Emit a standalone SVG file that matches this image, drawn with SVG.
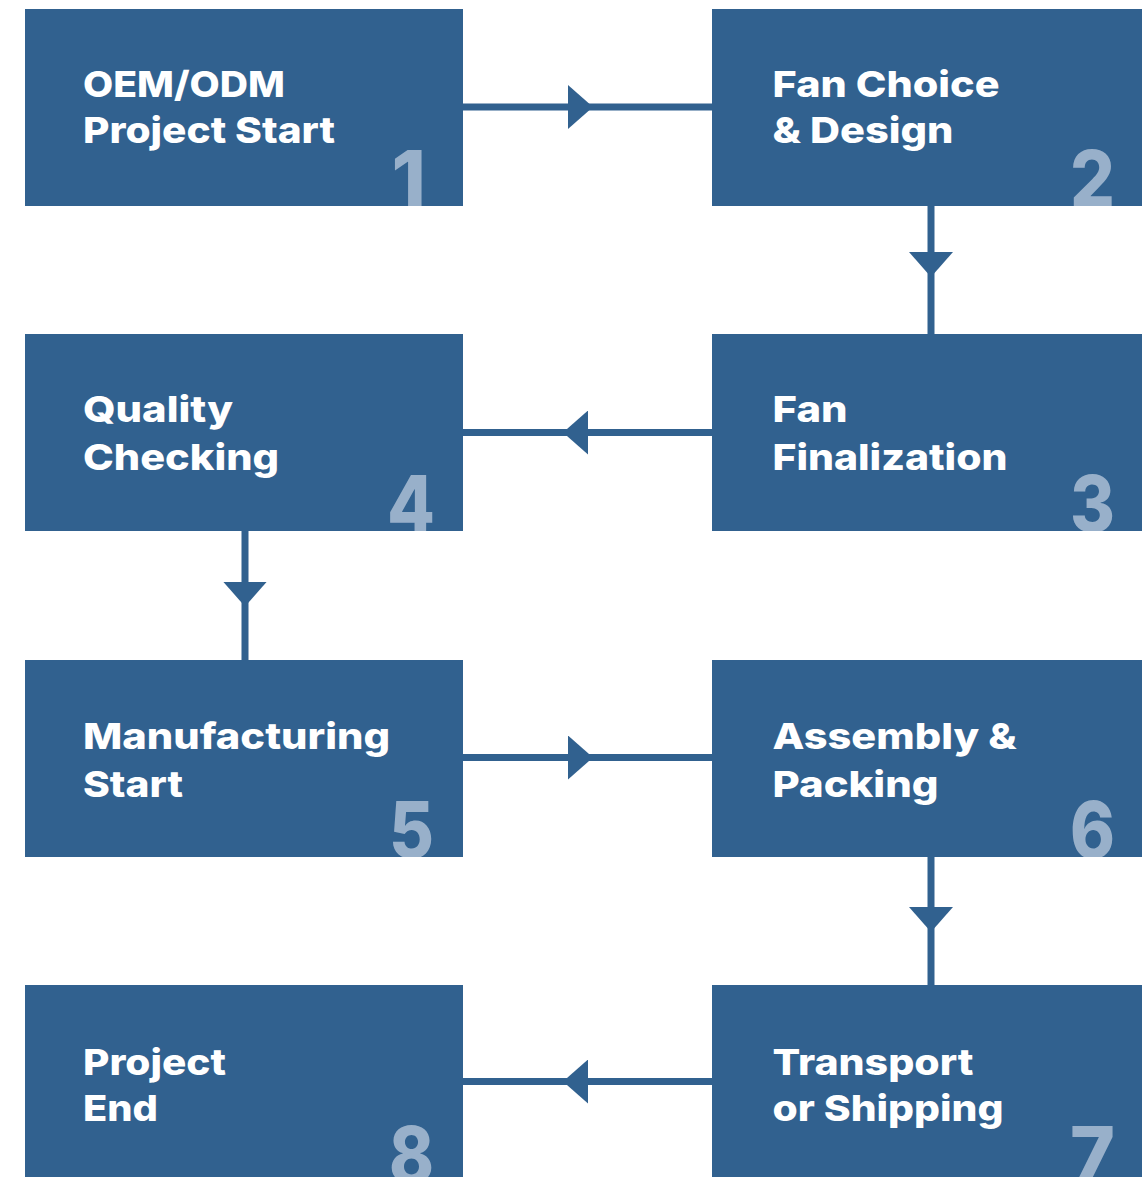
<svg xmlns="http://www.w3.org/2000/svg" width="1142" height="1177" viewBox="0 0 1142 1177">
  <style>
    .box { fill: #31618F; }
    .lbl { font-family: Inter, "Open Sans", "Liberation Sans", sans-serif; font-weight: 800; font-size: 36px; fill: #FFFFFF; }
    .num { font-family: Inter, "Open Sans", "Liberation Sans", sans-serif; font-weight: 800; font-size: 78px; fill: #98B0CA; text-anchor: end; }
    .conn { fill: none; stroke: #31618F; stroke-width: 7; marker-mid: url(#arrow); }
  </style>
  <defs>
    <marker id="arrow" markerUnits="userSpaceOnUse" markerWidth="26" markerHeight="44" viewBox="0 0 26 44" refX="25" refY="22" orient="auto">
      <path d="M0,0 L25,22 L0,44 Z" fill="#31618F"/>
    </marker>
    <clipPath id="c1"><rect x="25" y="9" width="438" height="197"/></clipPath>
    <clipPath id="c2"><rect x="712" y="9" width="438" height="197"/></clipPath>
    <clipPath id="c3"><rect x="712" y="334" width="438" height="197"/></clipPath>
    <clipPath id="c4"><rect x="25" y="334" width="438" height="197"/></clipPath>
    <clipPath id="c5"><rect x="25" y="660" width="438" height="197"/></clipPath>
    <clipPath id="c6"><rect x="712" y="660" width="438" height="197"/></clipPath>
    <clipPath id="c7"><rect x="712" y="985" width="438" height="197"/></clipPath>
    <clipPath id="c8"><rect x="25" y="985" width="438" height="197"/></clipPath>
  </defs>
  <rect width="1142" height="1177" fill="#FFFFFF"/>

  <g id="connectors">
    <path class="conn" d="M463,107 H593 H712"/>
    <path class="conn" d="M931,206 V277 V334"/>
    <path class="conn" d="M712,432.5 H563 H463"/>
    <path class="conn" d="M245,531 V606.5 V660"/>
    <path class="conn" d="M463,757.5 H593 H712"/>
    <path class="conn" d="M931,857 V932 V985"/>
    <path class="conn" d="M712,1081.5 H563 H463"/>
  </g>

  <g id="node1">
    <rect class="box" x="25" y="9" width="438" height="197"/>
    <text class="lbl" x="83" y="97" textLength="202" lengthAdjust="spacingAndGlyphs">OEM/ODM</text>
    <text class="lbl" x="83" y="143" textLength="252" lengthAdjust="spacingAndGlyphs">Project Start</text>
    <text class="num" x="426" y="207" clip-path="url(#c1)">1</text>
  </g>
  <g id="node2">
    <rect class="box" x="712" y="9" width="438" height="197"/>
    <text class="lbl" x="772.5" y="97" textLength="227" lengthAdjust="spacingAndGlyphs">Fan Choice</text>
    <text class="lbl" x="772.5" y="143" textLength="181" lengthAdjust="spacingAndGlyphs">&amp; Design</text>
    <text class="num" x="1115" y="207" clip-path="url(#c2)" textLength="45" lengthAdjust="spacingAndGlyphs">2</text>
  </g>
  <g id="node3">
    <rect class="box" x="712" y="334" width="438" height="197"/>
    <text class="lbl" x="772.5" y="422" textLength="75" lengthAdjust="spacingAndGlyphs">Fan</text>
    <text class="lbl" x="772.5" y="470" textLength="235" lengthAdjust="spacingAndGlyphs">Finalization</text>
    <text class="num" x="1115" y="532" clip-path="url(#c3)" textLength="45" lengthAdjust="spacingAndGlyphs">3</text>
  </g>
  <g id="node4">
    <rect class="box" x="25" y="334" width="438" height="197"/>
    <text class="lbl" x="83" y="422" textLength="150" lengthAdjust="spacingAndGlyphs">Quality</text>
    <text class="lbl" x="83" y="470" textLength="196" lengthAdjust="spacingAndGlyphs">Checking</text>
    <text class="num" x="435" y="532" clip-path="url(#c4)" textLength="48" lengthAdjust="spacingAndGlyphs">4</text>
  </g>
  <g id="node5">
    <rect class="box" x="25" y="660" width="438" height="197"/>
    <text class="lbl" x="83" y="749" textLength="307" lengthAdjust="spacingAndGlyphs">Manufacturing</text>
    <text class="lbl" x="83" y="797" textLength="100" lengthAdjust="spacingAndGlyphs">Start</text>
    <text class="num" x="434" y="858" clip-path="url(#c5)" textLength="45" lengthAdjust="spacingAndGlyphs">5</text>
  </g>
  <g id="node6">
    <rect class="box" x="712" y="660" width="438" height="197"/>
    <text class="lbl" x="772.5" y="749" textLength="244" lengthAdjust="spacingAndGlyphs">Assembly &amp;</text>
    <text class="lbl" x="772.5" y="797" textLength="166" lengthAdjust="spacingAndGlyphs">Packing</text>
    <text class="num" x="1115" y="858" clip-path="url(#c6)" textLength="45" lengthAdjust="spacingAndGlyphs">6</text>
  </g>
  <g id="node7">
    <rect class="box" x="712" y="985" width="438" height="197"/>
    <text class="lbl" x="772.5" y="1075" textLength="201" lengthAdjust="spacingAndGlyphs">Transport</text>
    <text class="lbl" x="772.5" y="1121" textLength="231" lengthAdjust="spacingAndGlyphs">or Shipping</text>
    <text class="num" x="1115" y="1183" clip-path="url(#c7)" textLength="45" lengthAdjust="spacingAndGlyphs">7</text>
  </g>
  <g id="node8">
    <rect class="box" x="25" y="985" width="438" height="197"/>
    <text class="lbl" x="83" y="1075" textLength="143" lengthAdjust="spacingAndGlyphs">Project</text>
    <text class="lbl" x="83" y="1121" textLength="75" lengthAdjust="spacingAndGlyphs">End</text>
    <text class="num" x="434" y="1183" clip-path="url(#c8)" textLength="45" lengthAdjust="spacingAndGlyphs">8</text>
  </g>
</svg>
